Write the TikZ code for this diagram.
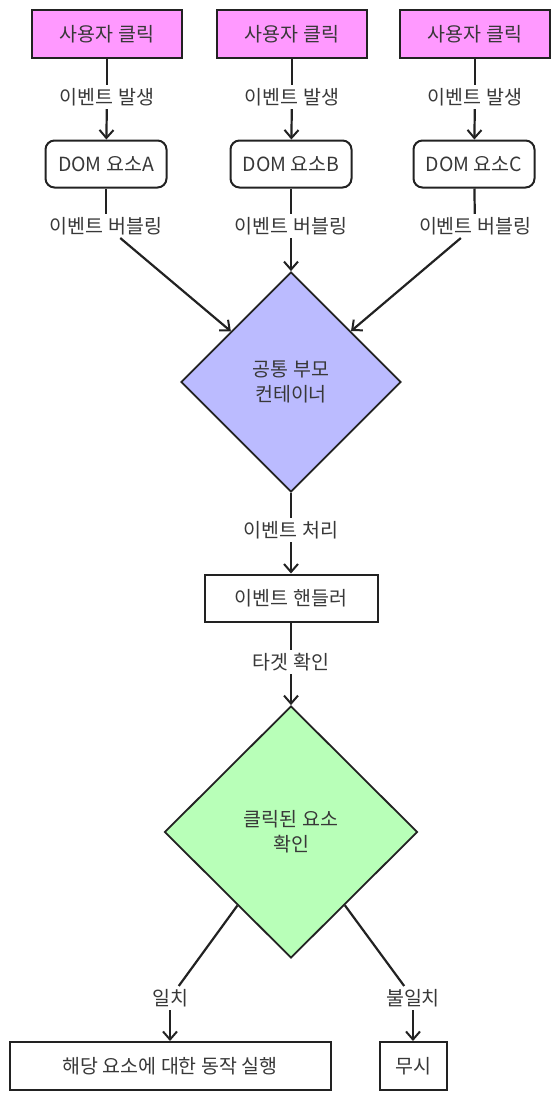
\documentclass[tikz,border=0pt]{standalone}
\usepackage{fontspec}
\setmainfont{Noto Sans CJK KR}
\usetikzlibrary{arrows.meta,shapes.geometric}
\definecolor{clickpink}{HTML}{FF99FF}
\definecolor{parentblue}{HTML}{BBBBFF}
\definecolor{checkgreen}{HTML}{B8FFB8}
\definecolor{ink}{HTML}{222222}

\begin{document}
\begin{tikzpicture}[x=1pt,y=-1pt]
	\tikzset{every node/.style={font=\fontsize{19.5}{25}\selectfont,text=ink!90},
		box/.style={draw=ink,line width=2pt,minimum height=48pt,inner sep=0pt},
		clickbox/.style={box,fill=clickpink,minimum width=150pt},
		dombox/.style={box,rounded corners=9pt,minimum width=121pt,minimum height=47pt},
		decision/.style={diamond,draw=ink,line width=1.8pt,inner sep=0pt,align=center},
		lbl/.style={fill=white,inner sep=3pt},
		link/.style={draw=ink,line width=2.2pt},
		arr/.style={link,-{Straight Barb[length=8pt,width=14pt,line width=2pt]}}}
	\useasboundingbox (0,0) rectangle (558,1100);
	% user clicks
	\node[clickbox] (clickA) at (107,34) {사용자 클릭};
	\node[clickbox] (clickB) at (292,34) {사용자 클릭};
	\node[clickbox] (clickC) at (475,34) {사용자 클릭};
	\node[lbl] (fireA) at (107,97) {이벤트 발생};
	\node[lbl] (fireB) at (292,97) {이벤트 발생};
	\node[lbl] (fireC) at (475,97) {이벤트 발생};
	\node[dombox] (domA) at (106,164) {DOM 요소A};
	\node[dombox] (domB) at (291,164) {DOM 요소B};
	\node[dombox] (domC) at (474,164) {DOM 요소C};
	\node[lbl] (bubA) at (106,226) {이벤트 버블링};
	\node[lbl] (bubB) at (291,226) {이벤트 버블링};
	\node[lbl] (bubC) at (475,226) {이벤트 버블링};
	% parent and handler
	\node[decision,fill=parentblue,minimum width=220pt,minimum height=220pt] (parent) at (291,382) {공통 부모\\컨테이너};
	\node[lbl] (handle) at (291,530) {이벤트 처리};
	\node[box,minimum width=173pt,minimum height=47pt] (handler) at (291,598) {이벤트 핸들러};
	\node[lbl] (target) at (291,662) {타겟 확인};
	\node[decision,fill=checkgreen,minimum width=253pt,minimum height=252pt] (check) at (291,832) {클릭된 요소\\확인};
	\node[lbl] (match) at (170,998) {일치};
	\node[lbl] (nomatch) at (413,998) {불일치};
	\node[box,minimum width=321pt] (action) at (170,1066) {해당 요소에 대한 동작 실행};
	\node[box,minimum width=67pt] (ignore) at (413,1066) {무시};
	% connectors
	\draw[link] (clickA) -- (fireA);
	\draw[link] (clickB) -- (fireB);
	\draw[link] (clickC) -- (fireC);
	\draw[arr] (fireA) -- (domA);
	\draw[arr] (fireB) -- (domB);
	\draw[arr] (fireC) -- (domC);
	\draw[link] (domA) -- (bubA);
	\draw[link] (domB) -- (bubB);
	\draw[link] (domC) -- (bubC);
	\draw[arr] (bubA) -- (parent);
	\draw[arr] (bubB) -- (parent);
	\draw[arr] (bubC) -- (parent);
	\draw[link] (parent) -- (handle);
	\draw[arr] (handle) -- (handler);
	\draw[link] (handler) -- (target);
	\draw[arr] (target) -- (check);
	\draw[link] (check) -- (match);
	\draw[link] (check) -- (nomatch);
	\draw[arr] (match) -- (action);
	\draw[arr] (nomatch) -- (ignore);
\end{tikzpicture}
\end{document}
